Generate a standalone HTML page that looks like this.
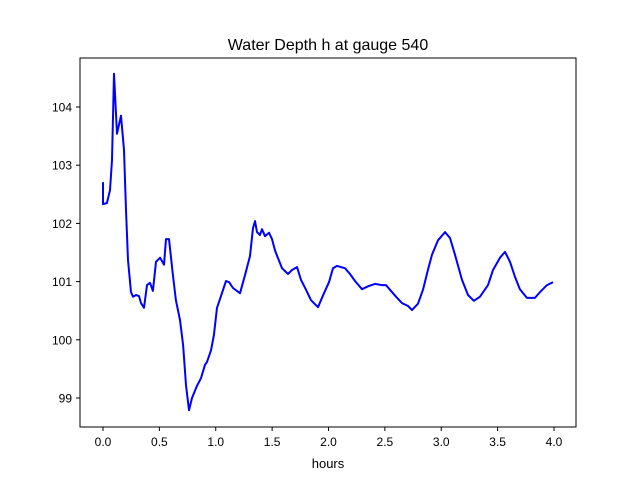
<!DOCTYPE html>
<html><head><meta charset="utf-8"><style>
body{margin:0;background:#fff}
text{font-family:"Liberation Sans","DejaVu Sans",sans-serif;fill:#000}
</style></head><body>
<svg id="chart" width="640" height="480" xmlns="http://www.w3.org/2000/svg">
<rect width="640" height="480" fill="#fff"/>
<text x="328" y="50" font-size="16" text-anchor="middle">Water Depth h at gauge 540</text>
<g id="xt"></g>
<g id="yt"></g>
<polyline id="line" fill="none" stroke="#0000ff" stroke-width="2" stroke-linejoin="round"/>
<rect x="80" y="58" width="496" height="369" fill="none" stroke="#000" stroke-width="1"/>
<text x="328" y="468" font-size="13" text-anchor="middle">hours</text>
</svg>
<script>
const hours=[0,0,0.035,0.062,0.080,0.098,0.124,0.160,0.186,0.204,0.222,0.248,0.266,0.293,0.319,0.337,0.364,0.390,0.417,0.443,0.470,0.506,0.541,0.559,0.585,0.621,0.647,0.683,0.710,0.736,0.763,0.789,0.834,0.869,0.905,0.922,0.958,0.984,1.011,1.047,1.091,1.118,1.153,1.215,1.259,1.304,1.330,1.348,1.366,1.392,1.410,1.437,1.472,1.499,1.526,1.588,1.641,1.676,1.721,1.756,1.800,1.845,1.907,1.960,2.004,2.040,2.075,2.111,2.146,2.191,2.235,2.297,2.350,2.412,2.474,2.510,2.545,2.599,2.652,2.705,2.741,2.794,2.838,2.882,2.918,2.971,3.033,3.078,3.122,3.184,3.237,3.290,3.344,3.415,3.459,3.521,3.565,3.610,3.654,3.698,3.760,3.831,3.876,3.938,3.991];
const depths=[102.71,102.33,102.35,102.57,103.09,104.57,103.54,103.85,103.26,102.23,101.37,100.82,100.74,100.77,100.75,100.63,100.55,100.94,100.98,100.84,101.34,101.41,101.29,101.73,101.73,101.10,100.68,100.34,99.91,99.22,98.79,99.00,99.21,99.34,99.57,99.62,99.82,100.08,100.55,100.75,101.01,100.99,100.89,100.80,101.11,101.44,101.92,102.04,101.85,101.80,101.90,101.78,101.84,101.73,101.53,101.23,101.13,101.20,101.25,101.03,100.86,100.68,100.56,100.80,100.99,101.23,101.27,101.25,101.23,101.13,101.01,100.87,100.92,100.96,100.94,100.94,100.86,100.74,100.63,100.58,100.51,100.62,100.86,101.20,101.46,101.71,101.85,101.75,101.46,101.03,100.77,100.67,100.74,100.94,101.20,101.41,101.51,101.34,101.08,100.87,100.72,100.72,100.82,100.94,100.99];
const xTicks=[0,0.5,1,1.5,2,2.5,3,3.5,4];
const xTickLabels=["0.0","0.5","1.0","1.5","2.0","2.5","3.0","3.5","4.0"];
const yTicks=[99,100,101,102,103,104];
const yTickLabels=["99","100","101","102","103","104"];
const X=h=>103+h*112.75;
const Y=v=>107+(104-v)*58.2;
const NS="http://www.w3.org/2000/svg";
const xt=document.getElementById('xt'),yt=document.getElementById('yt');
xTicks.forEach((t,i)=>{
  const l=document.createElementNS(NS,'line');
  
  
  l.setAttribute('x1',X(t));l.setAttribute('x2',X(t));l.setAttribute('y1',427);l.setAttribute('y2',431);l.setAttribute('stroke','#000');
  xt.appendChild(l);
  const tx=document.createElementNS(NS,'text');
  
  
  tx.setAttribute('x',X(t));tx.setAttribute('y',446);tx.setAttribute('font-size','12');tx.setAttribute('text-anchor','middle');
  tx.textContent=xTickLabels[i];xt.appendChild(tx);
});
yTicks.forEach((t,i)=>{
  const l=document.createElementNS(NS,'line');
  
  
  l.setAttribute('x1',76);l.setAttribute('x2',80);l.setAttribute('y1',Y(t));l.setAttribute('y2',Y(t));l.setAttribute('stroke','#000');
  yt.appendChild(l);
  const tx=document.createElementNS(NS,'text');
  
  
  tx.setAttribute('x',72);tx.setAttribute('y',Y(t)+4.5);tx.setAttribute('font-size','12');tx.setAttribute('text-anchor','end');
  tx.textContent=yTickLabels[i];yt.appendChild(tx);
});
document.getElementById('line').setAttribute('points',hours.map((h,i)=>X(h).toFixed(1)+','+Y(depths[i]).toFixed(1)).join(' '));
</script>
</body></html>
